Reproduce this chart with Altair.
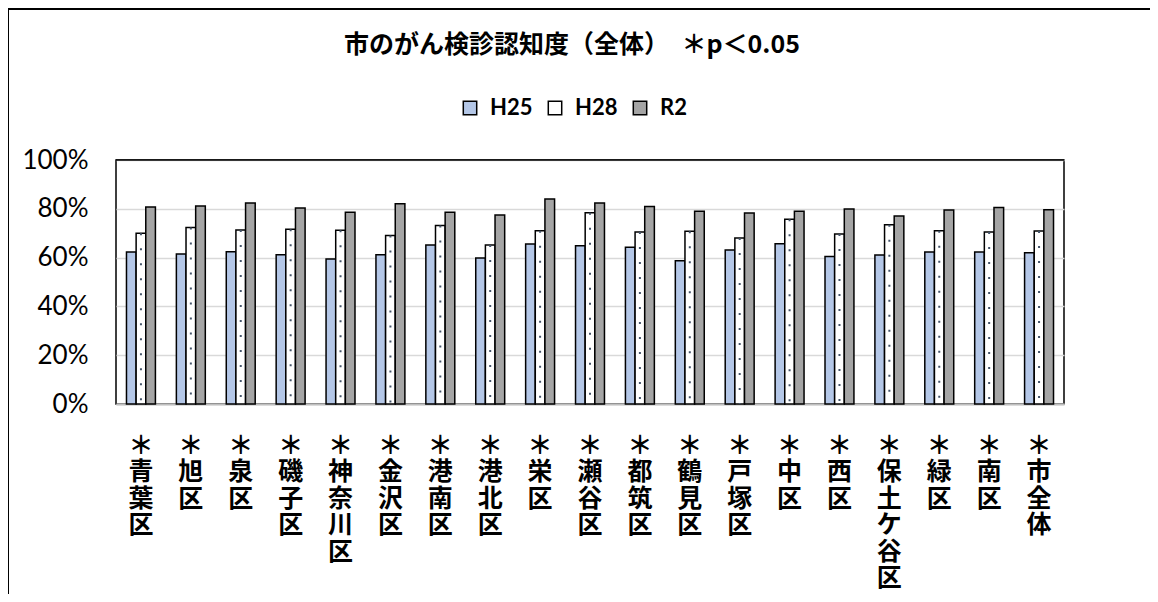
import altair as alt
import pandas as pd

districts = ["青葉区", "旭区", "泉区", "磯子区", "神奈川区", "金沢区", "港南区", "港北区", "栄区",
             "瀬谷区", "都筑区", "鶴見区", "戸塚区", "中区", "西区", "保土ケ谷区", "緑区", "南区", "市全体"]
years = ["H25", "H28", "R2"]
h25 = [62.3, 61.5, 62.4, 61.2, 59.4, 61.2, 65.2, 59.8, 65.6, 64.9, 64.2, 58.7, 63.1, 65.7, 60.5, 61.1, 62.3, 62.3, 62.0]
h28 = [70.0, 72.3, 71.3, 71.6, 71.2, 69.1, 73.2, 65.2, 71.0, 78.4, 70.5, 70.8, 68.0, 75.7, 69.7, 73.5, 71.0, 70.5, 70.9]
r2 = [80.7, 81.1, 82.4, 80.3, 78.6, 82.1, 78.6, 77.5, 84.0, 82.4, 80.9, 79.0, 78.3, 79.0, 79.9, 77.0, 79.5, 80.5, 79.6]
colors = ["#B4C7E7", "#FFFFFF", "#A5A5A5"]
title_text = "市のがん検診認知度（全体）　＊p＜0.05"

rows = []
for i, d in enumerate(districts):
    for y, vals in zip(years, [h25, h28, r2]):
        rows.append({"district": d, "year": y, "value": vals[i] / 100.0})
df = pd.DataFrame(rows)

jp = "Noto Sans CJK JP"
num_font = "Lato"

x_enc = alt.X(
    "district:N",
    sort=districts,
    scale=alt.Scale(paddingInner=0.42, paddingOuter=0.21),
    axis=alt.Axis(
        title=None,
        ticks=False,
        labelAngle=0,
        labelExpr="split('＊' + datum.label, '')",
        labelFont=jp,
        labelFontSize=25,
        labelFontWeight="bold",
        labelLineHeight=26.5,
        labelBaseline="top",
        labelPadding=29,
        labelColor="#000000",
        labelOverlap=False,
        domainColor="#BFBFBF",
        domainWidth=2,
    ),
)
y_enc = alt.Y(
    "value:Q",
    scale=alt.Scale(domain=[0, 1], nice=False),
    axis=alt.Axis(
        title=None,
        ticks=False,
        domain=False,
        values=[i / 10 for i in range(11)],
        labelExpr="round(datum.value * 100) % 20 == 0 ? format(datum.value, '.0%') : ''",
        labelFont=num_font,
        labelFontSize=26,
        labelColor="#000000",
        labelPadding=28,
        gridColor="#D9D9D9",
        gridWidth=1.5,
    ),
)
xoff = alt.XOffset("year:N", sort=years, scale=alt.Scale(domain=years, paddingInner=0, paddingOuter=0))

bars = alt.Chart(df).mark_bar(stroke="#000000", strokeWidth=1.5).encode(
    x=x_enc,
    xOffset=xoff,
    y=y_enc,
    fill=alt.Fill(
        "year:N",
        sort=years,
        scale=alt.Scale(domain=years, range=colors),
        legend=alt.Legend(
            title=None,
            orient="none",
            direction="horizontal",
            legendX=343,
            legendY=-63,
            symbolType="square",
            symbolSize=180,
            symbolStrokeColor="#000000",
            symbolStrokeWidth=1.5,
            symbolOpacity=1,
            labelFont=num_font,
            labelFontSize=22,
            labelFontWeight="bold",
            labelColor="#000000",
            labelOffset=9,
            columnPadding=11,
        ),
    ),
)

dots = alt.Chart(df).transform_filter(alt.datum.year == "H28").mark_rule(
    color="#44546A", strokeWidth=2, strokeDash=[2, 13]
).encode(
    x=alt.X("district:N", sort=districts),
    xOffset=xoff,
    y=alt.Y("value:Q"),
    y2=alt.datum(0),
)

one = pd.DataFrame({"k": [0]})
top_frame = alt.Chart(one).mark_rule(color="#000000", strokeWidth=1.5).encode(y=alt.datum(1.0))
border_left = alt.Chart(one).mark_rule(color="#000000", strokeWidth=2).encode(
    x=alt.value(-108), y=alt.value(-151), y2=alt.value(440)
)
border_top = alt.Chart(one).mark_rule(color="#000000", strokeWidth=2).encode(
    x=alt.value(-108), x2=alt.value(1040), y=alt.value(-151)
)

chart = alt.layer(bars, dots, top_frame, border_left, border_top).properties(
    width=948,
    height=244,
    padding={"left": 108, "top": 152, "right": 86, "bottom": 190},
    autosize=alt.AutoSizeParams(type="none"),
    background="#FFFFFF",
    title=alt.TitleParams(
        text=title_text,
        font=jp,
        fontSize=25,
        fontWeight="bold",
        color="#000000",
        anchor="middle",
        offset=0,
        dy=50,
        dx=-18,
    ),
).configure_view(stroke="#000000", strokeWidth=1.5)

chart.save("out.html", embed_options={"renderer": "svg", "actions": False})
